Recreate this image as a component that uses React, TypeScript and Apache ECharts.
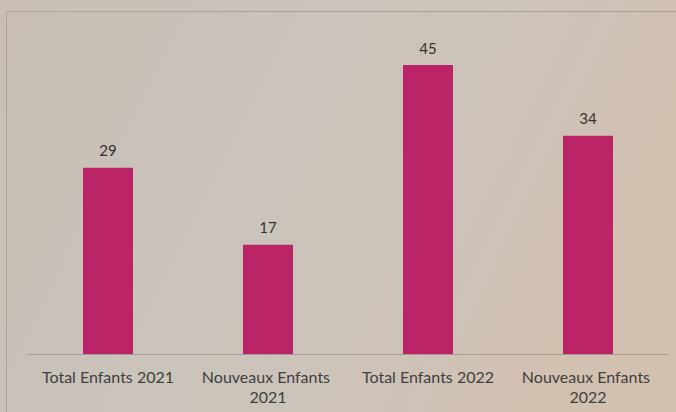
import React, { useEffect, useRef } from "react";
import * as echarts from "echarts";

const categories = ["Total Enfants 2021", "Nouveaux Enfants 2021", "Total Enfants 2022", "Nouveaux Enfants 2022"];
const values = [29, 17, 45, 34];

export default function App() {
  const ref = useRef<HTMLDivElement>(null);
  useEffect(() => {
    document.body.style.margin = "0";
    const chart = echarts.init(ref.current!, null, { renderer: "svg" });
    chart.setOption({
      animation: false,
      backgroundColor: {
        type: "linear", x: 0, y: 0, x2: 1, y2: 0.3,
        colorStops: [
          { offset: 0, color: "#c8beb5" },
          { offset: 0.45, color: "#cac4bc" },
          { offset: 0.75, color: "#cdc3b9" },
          { offset: 1, color: "#d2c0b0" },
        ],
      },
      graphic: [
        {
          type: "rect",
          shape: { x: 6.5, y: 11.5, width: 680, height: 420 },
          style: { fill: "none", stroke: "#aaa39b", lineWidth: 1 },
          silent: true,
        },
      ],
      grid: { left: 28, right: 8, top: 33, bottom: 58 },
      xAxis: {
        type: "category",
        data: categories,
        axisLine: { show: true, lineStyle: { color: "#a59d95", width: 1 } },
        axisTick: { show: false },
        axisLabel: {
          color: "#404040",
          fontFamily: "Lato",
          fontSize: 16,
          margin: 12,
          lineHeight: 20,
          width: 150,
          overflow: "break",
          interval: 0,
        },
      },
      yAxis: {
        type: "value",
        min: 0,
        max: 50,
        show: false,
        splitLine: { show: false },
      },
      series: [
        {
          type: "bar",
          data: values,
          barWidth: 50,
          itemStyle: { color: "#bc2468" },
          label: {
            show: true,
            position: "top",
            distance: 10,
            color: "#333333",
            fontFamily: "Lato",
            fontSize: 15,
          },
        },
      ],
    });
    return () => chart.dispose();
  }, []);
  return <div ref={ref} style={{ width: 676, height: 412 }} />;
}
